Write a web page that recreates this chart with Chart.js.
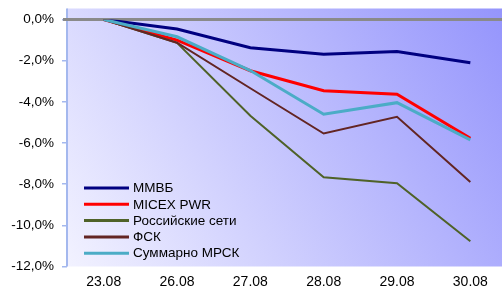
<!DOCTYPE html>
<html>
<head>
<meta charset="utf-8">
<script src="https://cdn.jsdelivr.net/npm/chart.js@4/dist/chart.umd.min.js"></script>
<style>
  html, body { margin: 0; padding: 0; background: #fff; overflow: hidden; }
  #wrap { width: 502px; height: 288px; overflow: hidden; }
</style>
</head>
<body>
<div id="wrap"><canvas id="chart" width="507" height="288"></canvas></div>
<script>
const labels = ['23.08', '26.08', '27.08', '28.08', '29.08', '30.08'];

const mmvb = [0, -0.46, -1.37, -1.69, -1.56, -2.10];
const micexPwr = [0, -1.00, -2.49, -3.46, -3.63, -5.77];
const rosseti = [0, -1.13, -4.68, -7.66, -7.95, -10.77];
const fsk = [0, -1.13, -3.34, -5.54, -4.73, -7.90];
const mrsk = [0, -0.84, -2.48, -4.60, -4.04, -5.85];

const font = "'Liberation Sans', Arial, sans-serif";

// background gradient + zero line
const backdrop = {
  id: 'backdrop',
  beforeDraw(chart) {
    const { ctx, chartArea: a } = chart;
    const top = a.top - 11;
    const g = ctx.createLinearGradient(a.left, a.bottom, a.right, top);
    g.addColorStop(0, '#f2f2ff');
    g.addColorStop(1, '#9494fc');
    ctx.save();
    ctx.fillStyle = g;
    ctx.fillRect(a.left, top, a.right - a.left, a.bottom - top);
    ctx.strokeStyle = '#a4b8ee';
    ctx.lineWidth = 2;
    ctx.beginPath();
    ctx.moveTo(a.left, top);
    ctx.lineTo(a.left, a.bottom);
    ctx.stroke();
    ctx.restore();
  },
  beforeDatasetsDraw(chart) {
    const { ctx, chartArea: a, scales } = chart;
    const y = scales.y.getPixelForValue(0);
    ctx.save();
    ctx.strokeStyle = '#8a8a8a';
    ctx.lineWidth = 3;
    ctx.beginPath();
    ctx.moveTo(a.left - 4, y);
    ctx.lineTo(a.right, y);
    ctx.stroke();
    ctx.restore();
  }
};

// legend drawn inside the plot, lower left
const innerLegend = {
  id: 'innerLegend',
  afterDraw(chart) {
    const { ctx, chartArea: a } = chart;
    ctx.save();
    ctx.font = '13.5px ' + font;
    ctx.textBaseline = 'middle';
    ctx.fillStyle = '#000';
    chart.data.datasets.forEach((ds, i) => {
      const y = a.bottom - 78.5 + i * 16.3;
      ctx.strokeStyle = ds.borderColor;
      ctx.lineWidth = 3;
      ctx.beginPath();
      ctx.moveTo(a.left + 17, y);
      ctx.lineTo(a.left + 62, y);
      ctx.stroke();
      ctx.fillText(ds.label, a.left + 66, y + 0.5);
    });
    ctx.restore();
  }
};

new Chart(document.getElementById('chart'), {
  type: 'line',
  data: {
    labels: labels,
    datasets: [
      { label: 'ММВБ', data: mmvb, borderColor: '#000080', borderWidth: 3, order: 4 },
      { label: 'MICEX PWR', data: micexPwr, borderColor: '#ff0000', borderWidth: 3, order: 3 },
      { label: 'Российские сети', data: rosseti, borderColor: '#4f6228', borderWidth: 2, order: 2 },
      { label: 'ФСК', data: fsk, borderColor: '#632523', borderWidth: 2, order: 1 },
      { label: 'Суммарно МРСК', data: mrsk, borderColor: '#4bacc6', borderWidth: 3, order: 0 }
    ].map(d => Object.assign(d, { pointRadius: 0, tension: 0, fill: false }))
  },
  options: {
    responsive: false,
    animation: false,
    layout: { padding: { top: 19.5, right: 0, left: 0, bottom: 0 } },
    plugins: { legend: { display: false }, tooltip: { enabled: false } },
    scales: {
      x: {
        offset: true,
        grid: { display: false, drawTicks: false },
        border: { display: false },
        ticks: { color: '#000', font: { family: font, size: 14 }, padding: 7, maxRotation: 0 },
        afterFit(s) { s.height = 21.5; }
      },
      y: {
        min: -12,
        max: 0,
        ticks: {
          stepSize: 2,
          color: '#000',
          font: { family: font, size: 13.5 },
          padding: 8,
          callback: v => v.toFixed(1).replace('.', ',') + '%'
        },
        grid: { drawOnChartArea: false, tickLength: 5, tickColor: '#a4b8ee', lineWidth: 1.5 },
        border: { display: false },
        afterFit(s) { s.width = 67; }
      }
    }
  },
  plugins: [backdrop, innerLegend]
});
</script>
</body>
</html>
